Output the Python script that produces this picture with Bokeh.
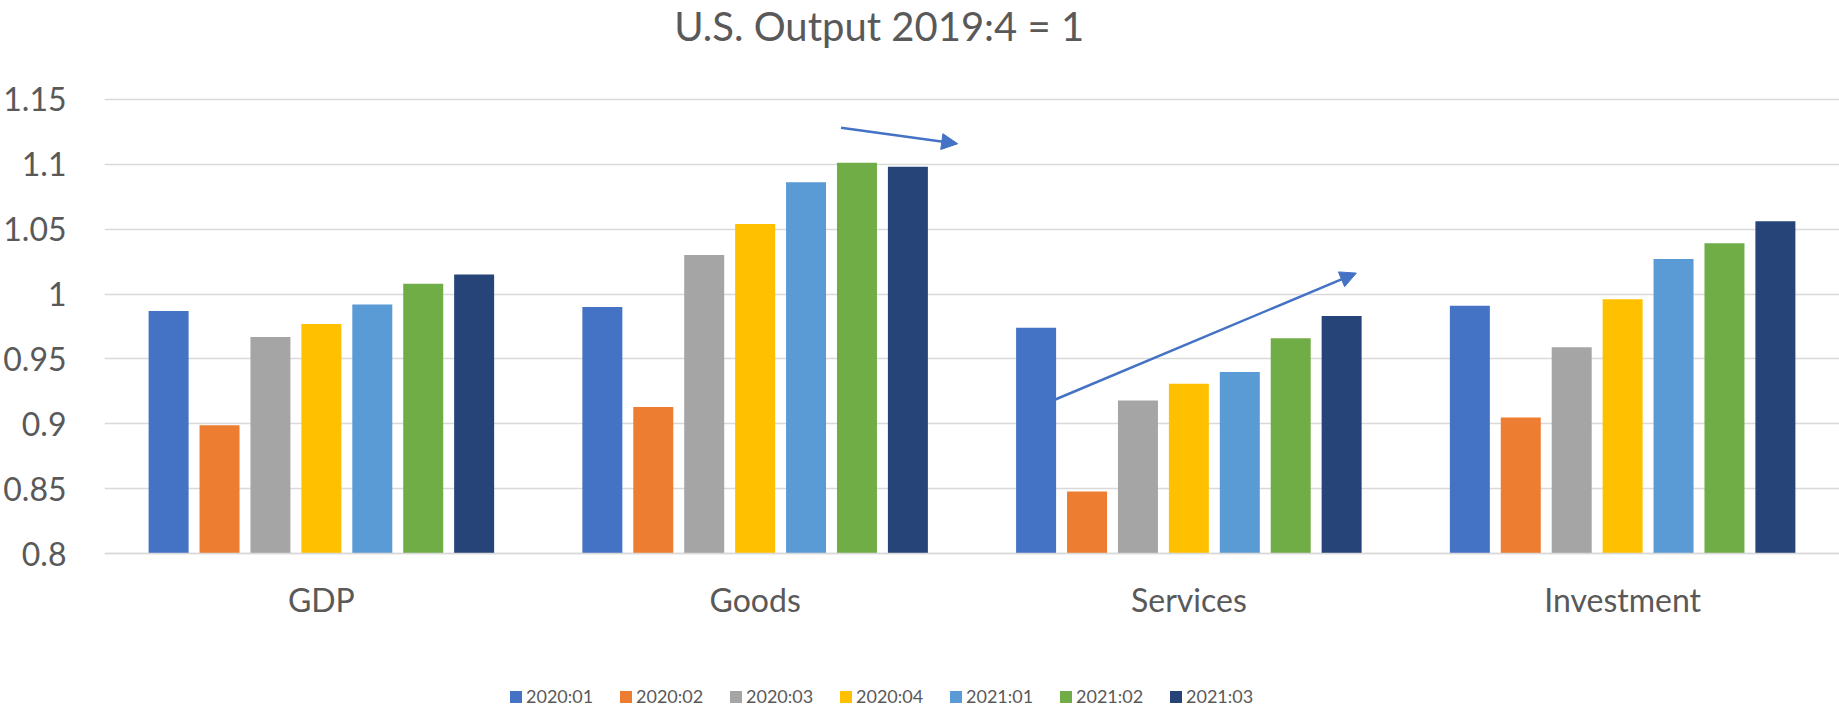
from bokeh.plotting import figure
from bokeh.models import (Range1d, FixedTicker, Legend, LegendItem, Arrow, NormalHead,
                          ColumnDataSource, Label)
from bokeh.embed import file_html
from bokeh.resources import INLINE

# ---------------- data ----------------
categories = ["GDP", "Goods", "Services", "Investment"]
series_names = ["2020:01", "2020:02", "2020:03", "2020:04", "2021:01", "2021:02", "2021:03"]

q2020_01 = [0.987, 0.990, 0.974, 0.991]
q2020_02 = [0.899, 0.913, 0.848, 0.905]
q2020_03 = [0.967, 1.030, 0.918, 0.959]
q2020_04 = [0.977, 1.054, 0.931, 0.996]
q2021_01 = [0.992, 1.086, 0.940, 1.027]
q2021_02 = [1.008, 1.101, 0.966, 1.039]
q2021_03 = [1.015, 1.098, 0.983, 1.056]

y_ticks = [0.8, 0.85, 0.9, 0.95, 1.0, 1.05, 1.1, 1.15]
y_tick_labels = ["0.8", "0.85", "0.9", "0.95", "1", "1.05", "1.1", "1.15"]

# hand-drawn arrow annotations (x in category-index units, y in output units)
arrow_goods_x = [1.698, 1.967]
arrow_goods_y = [1.128, 1.1157]
arrow_services_x = [2.192, 2.886]
arrow_services_y = [0.9188, 1.0161]

title_text = "U.S. Output 2019:4 = 1"

# ---------------- style / layout ----------------
colors = ["#4472C4", "#ED7D31", "#A5A5A5", "#FFC000", "#5B9BD5", "#70AD47", "#264478"]
TEXT = "#595959"
GRID = "#D9D9D9"
FONT = "Lato"
BAR_W = 0.0922
BAR_STEP = 0.1174
# the frame spans the whole height; the value axis 0.8..1.15 occupies px 98.7..553.3
Y_LO, Y_HI = 0.6801, 1.2260
TITLE_POS = (1.786, 1.2066)      # title centre / baseline
LEGEND_POS = (404, 2)            # legend bottom-left, px from frame bottom-left

series = [q2020_01, q2020_02, q2020_03, q2020_04, q2021_01, q2021_02, q2021_03]

p = figure(width=1839, height=709, output_backend="svg", toolbar_location=None, title=None,
           x_range=Range1d(0, len(categories)), y_range=Range1d(Y_LO, Y_HI),
           min_border_left=103, min_border_right=0, min_border_top=0, min_border_bottom=0)
p.outline_line_color = None
p.background_fill_color = "white"
p.border_fill_color = "white"

centers = [i + 0.5 for i in range(len(categories))]
items = []
for k, (name, vals) in enumerate(zip(series_names, series)):
    xs = [c + (k - 3) * BAR_STEP for c in centers]
    src = ColumnDataSource(dict(x=xs, top=vals))
    r = p.vbar(x="x", top="top", bottom=y_ticks[0], width=BAR_W, source=src,
               fill_color=colors[k], line_color=None)
    items.append(LegendItem(label=name, renderers=[r]))

# value axis
p.yaxis.ticker = FixedTicker(ticks=y_ticks)
p.yaxis.major_label_overrides = {t: s for t, s in zip(y_ticks, y_tick_labels)}
p.yaxis.axis_line_color = None
p.yaxis.major_tick_line_color = None
p.yaxis.minor_tick_line_color = None
p.yaxis.major_tick_out = 0
p.yaxis.minor_tick_out = 0
p.yaxis.major_label_standoff = 38
p.yaxis.major_label_text_font = FONT
p.yaxis.major_label_text_font_size = "32px"
p.yaxis.major_label_text_color = TEXT

# category axis, pinned at the bottom of the value scale
p.xaxis.fixed_location = y_ticks[0]
p.xaxis.ticker = FixedTicker(ticks=centers)
p.xaxis.major_label_overrides = {c: n for c, n in zip(centers, categories)}
p.xaxis.axis_line_color = GRID
p.xaxis.axis_line_width = 1.5
p.xaxis.major_tick_line_color = None
p.xaxis.minor_tick_line_color = None
p.xaxis.major_tick_out = 0
p.xaxis.minor_tick_out = 0
p.xaxis.major_label_standoff = 26
p.xaxis.major_label_text_font = FONT
p.xaxis.major_label_text_font_size = "32px"
p.xaxis.major_label_text_color = TEXT

p.xgrid.grid_line_color = None
p.ygrid.ticker = FixedTicker(ticks=y_ticks)
p.ygrid.grid_line_color = GRID
p.ygrid.grid_line_width = 1.5

# title
p.add_layout(Label(x=TITLE_POS[0], y=TITLE_POS[1], text=title_text, text_align="center",
                   text_baseline="alphabetic", text_font=FONT, text_font_size="40px",
                   text_color=TEXT))

# arrows
for ax, ay in [(arrow_goods_x, arrow_goods_y), (arrow_services_x, arrow_services_y)]:
    p.add_layout(Arrow(x_start=ax[0], y_start=ay[0], x_end=ax[1], y_end=ay[1],
                       line_color="#4472C4", line_width=2.5,
                       end=NormalHead(size=16, fill_color="#4472C4", line_color="#4472C4")))

# legend
legend = Legend(items=items, orientation="horizontal", location=LEGEND_POS,
                glyph_width=15, glyph_height=15, label_standoff=3, label_width=69,
                label_height=12, spacing=23, padding=0, margin=0,
                border_line_color=None, background_fill_alpha=0,
                label_text_font=FONT, label_text_font_size="18px", label_text_color=TEXT)
p.add_layout(legend, "center")

open("out.html", "w").write(file_html(p, INLINE))
